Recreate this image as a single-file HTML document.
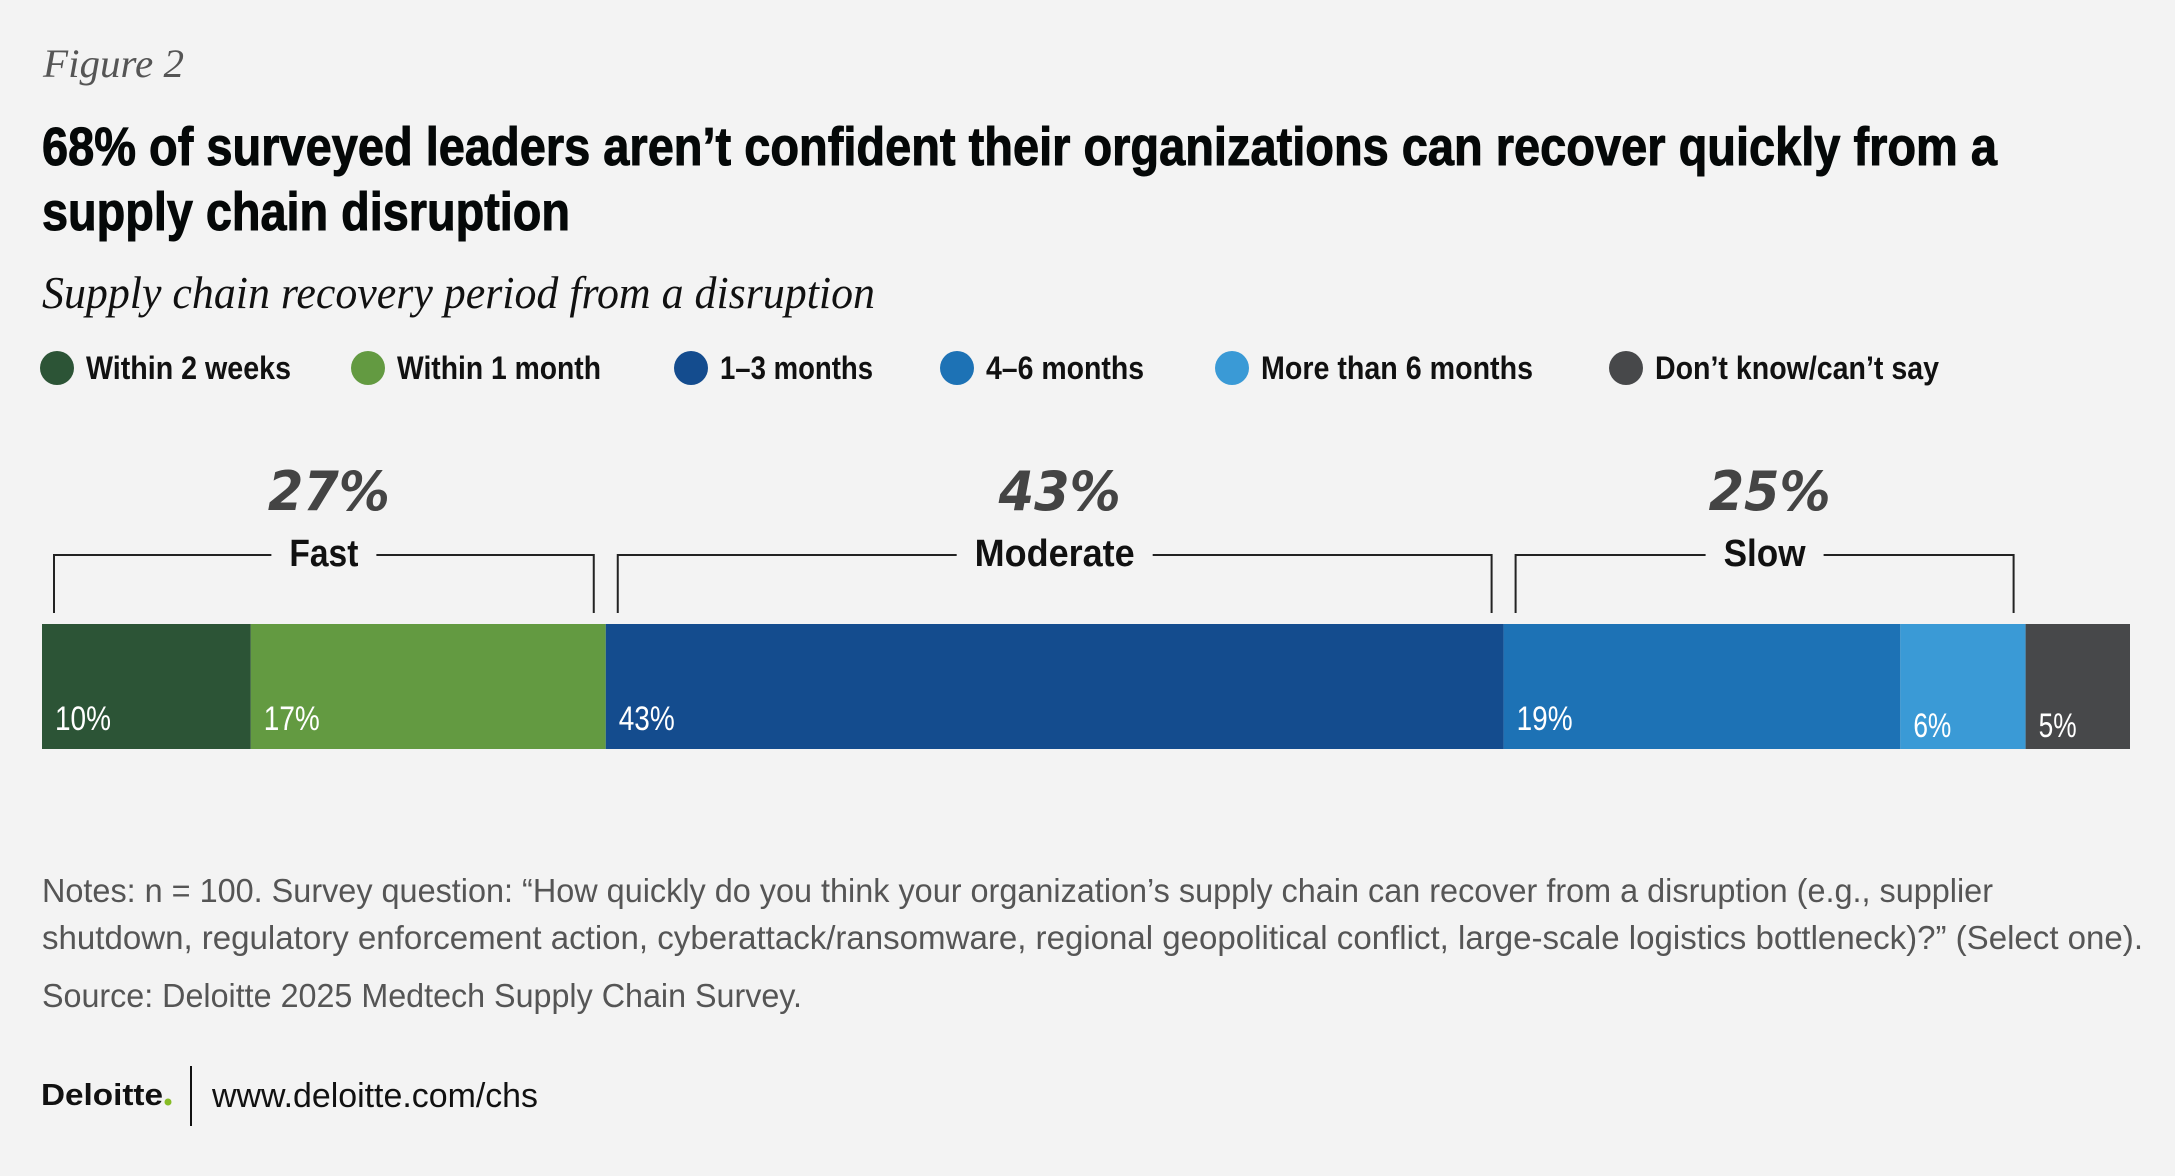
<!DOCTYPE html>
<html><head><meta charset="utf-8"><style>
html,body{margin:0;padding:0;background:#f3f3f3;}
svg{display:block;}
</style></head><body>
<svg id="chart" width="2175" height="1176" viewBox="0 0 2175 1176" xmlns="http://www.w3.org/2000/svg">
<rect width="2175" height="1176" fill="#f3f3f3"/>
<text x="43" y="77" font-family="Liberation Serif, serif" font-style="italic" font-size="40" fill="#555" textLength="141" lengthAdjust="spacingAndGlyphs">Figure 2</text>
<text x="42" y="165" font-family="Liberation Sans, sans-serif" font-weight="bold" font-size="54" fill="#050808" stroke="#050808" stroke-width="1" textLength="1955" lengthAdjust="spacingAndGlyphs">68% of surveyed leaders aren’t confident their organizations can recover quickly from a</text>
<text x="42" y="230" font-family="Liberation Sans, sans-serif" font-weight="bold" font-size="54" fill="#050808" stroke="#050808" stroke-width="1" textLength="528" lengthAdjust="spacingAndGlyphs">supply chain disruption</text>
<text x="42" y="308" font-family="Liberation Serif, serif" font-style="italic" font-size="46" fill="#111" textLength="833" lengthAdjust="spacingAndGlyphs">Supply chain recovery period from a disruption</text>
<g id="legend"></g>
<g id="groups"></g>
<g id="bars"></g>
<g font-family="Liberation Sans, sans-serif" font-size="33" fill="#555">
<text x="42" y="902" textLength="1951" lengthAdjust="spacingAndGlyphs">Notes: n = 100. Survey question: “How quickly do you think your organization’s supply chain can recover from a disruption (e.g., supplier</text>
<text x="42" y="949" textLength="2101" lengthAdjust="spacingAndGlyphs">shutdown, regulatory enforcement action, cyberattack/ransomware, regional geopolitical conflict, large-scale logistics bottleneck)?” (Select one).</text>
<text x="42" y="1007" textLength="760" lengthAdjust="spacingAndGlyphs">Source: Deloitte 2025 Medtech Supply Chain Survey.</text>
</g>
<text x="41" y="1105" font-family="Liberation Sans, sans-serif" font-weight="bold" font-size="31" fill="#111" textLength="122" lengthAdjust="spacingAndGlyphs">Deloitte</text>
<circle cx="168" cy="1102" r="3.5" fill="#86bc25"/>
<line x1="191" y1="1066" x2="191" y2="1126" stroke="#111" stroke-width="2"/>
<text x="212" y="1107" font-family="Liberation Sans, sans-serif" font-size="34" fill="#111" textLength="326" lengthAdjust="spacingAndGlyphs">www.deloitte.com/chs</text>
</svg>
<script>
const categories = ["Within 2 weeks","Within 1 month","1–3 months","4–6 months","More than 6 months","Don’t know/can’t say"];
const values = [10,17,43,19,6,5];
const colors = ["#2c5436","#639a41","#144c8e","#1d72b5","#3a9ad6","#47484a"];
const groupNames = ["Fast","Moderate","Slow"];
const groupValues = [27,43,25];
const groupMembers = [[0,1],[2],[3,4]];
const legendX = [57,368,691,957,1232,1626];
const legendW = [205,204,153,158,272,284];
const groupLabelW = [69,160,82];

const NS = "http://www.w3.org/2000/svg";
const X0 = 42, X1 = 2130, BAR_Y = 624, BAR_H = 125;
const total = values.reduce((a,b)=>a+b,0);
const xs = v => X0 + (X1 - X0) * v / total;
function mk(tag, attrs, parent){ const e=document.createElementNS(NS,tag); for(const k in attrs) e.setAttribute(k,attrs[k]); parent.appendChild(e); return e; }

// legend
const lg = document.getElementById("legend");
categories.forEach((c,i)=>{
  const dot = mk("circle",{cx:legendX[i],cy:368,r:17,fill:colors[i]},lg);
  
  
  const t = mk("text",{x:legendX[i]+29,y:379,"font-family":"Liberation Sans, sans-serif","font-weight":"bold","font-size":32,fill:"#111",textLength:legendW[i],lengthAdjust:"spacingAndGlyphs"},lg);
  t.textContent = c;
  
  
});

// bars
const bg = document.getElementById("bars");
let cum = 0;
const starts = [];
values.forEach((v,i)=>{
  const x = xs(cum), w = xs(cum+v) - x;
  starts.push([x, x+w]);
  const r = mk("rect",{x:x,y:BAR_Y,width:w,height:BAR_H,fill:colors[i]},bg);
  
  
  const t = mk("text",{x:x+13,y:(v<8?737:730),"font-family":"Liberation Sans, sans-serif","font-size":34,fill:"#fff",textLength:(v>=10?56:38),lengthAdjust:"spacingAndGlyphs"},bg);
  t.textContent = v + "%";
  
  
  cum += v;
});

// group brackets
const gg = document.getElementById("groups");
groupNames.forEach((g,gi)=>{
  const m = groupMembers[gi];
  const a = starts[m[0]][0] + 12, b = starts[m[m.length-1]][1] - 12;
  const mid = (a+b)/2;
  const labelW = groupLabelW[gi];
  const p = mk("path",{d:`M${a},613 V555 H${mid-labelW/2-18} M${mid+labelW/2+18},555 H${b} V613`,fill:"none",stroke:"#222","stroke-width":2},gg);
  
  
  const t = mk("text",{x:mid,y:566,"text-anchor":"middle","font-family":"Liberation Sans, sans-serif","font-weight":"bold","font-size":38,fill:"#111",textLength:labelW,lengthAdjust:"spacingAndGlyphs"},gg);
  t.textContent = g;
  
  
  const pt = mk("text",{x:mid+5,y:510,"text-anchor":"middle","font-family":"DejaVu Sans, sans-serif","font-weight":"bold","font-style":"italic","font-size":54,fill:"#444",textLength:122,lengthAdjust:"spacingAndGlyphs"},gg);
  pt.textContent = groupValues[gi] + "%";
  
  
});
</script>
</body></html>
